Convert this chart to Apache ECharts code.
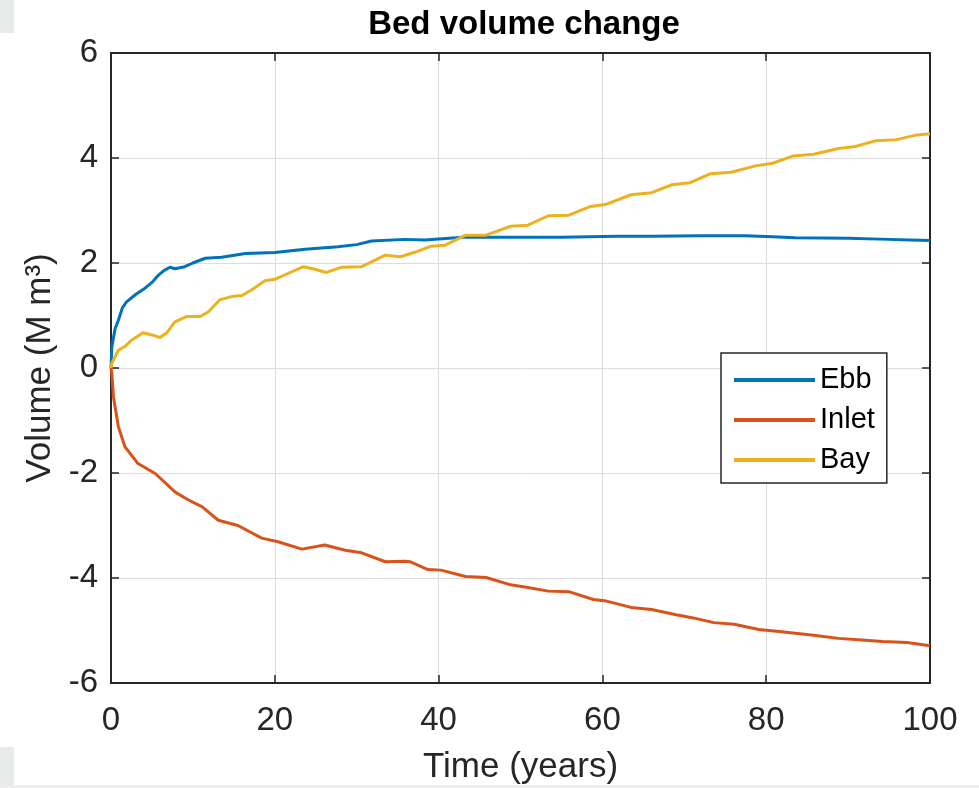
<!DOCTYPE html>
<html>
<head>
<meta charset="utf-8">
<script src="https://cdn.jsdelivr.net/npm/echarts@6/dist/echarts.min.js"></script>
<style>
html,body{margin:0;padding:0;background:#fff;}
#c{width:979px;height:788px;}
</style>
</head>
<body>
<div id="c"></div>
<script>
// ---- data ----
var seriesNames = ['Ebb', 'Inlet', 'Bay'];
var xTicks = [0, 20, 40, 60, 80, 100];
var yTicks = [-6, -4, -2, 0, 2, 4, 6];

var ebbT = [0, 0.1, 0.5, 0.9, 1.4, 1.9, 3, 4.15, 5, 5.8, 6.5, 7.2, 7.8, 9, 10, 11.5, 13.5, 16.4, 20, 23.7, 27.7, 30, 31.8, 35.9, 38.3, 43, 49.6, 55, 61.7, 66, 71.9, 77.4, 80.8, 83.5, 90, 95, 97.6, 100];
var ebbV = [0, 0.4, 0.75, 0.91, 1.15, 1.26, 1.4, 1.52, 1.63, 1.77, 1.86, 1.92, 1.89, 1.93, 2.0, 2.09, 2.11, 2.18, 2.2, 2.26, 2.31, 2.35, 2.42, 2.45, 2.44, 2.49, 2.49, 2.49, 2.51, 2.51, 2.52, 2.52, 2.50, 2.48, 2.47, 2.45, 2.44, 2.43];

var inletT = [0, 0.1, 0.3, 0.9, 1.7, 3.3, 5.4, 7.8, 9.4, 11.1, 13.1, 15.5, 18.4, 20.4, 23.3, 26.1, 28.6, 30.6, 33.5, 35.9, 36.5, 38.7, 40.3, 43.3, 45.8, 48.8, 50.9, 53.4, 55.9, 58.9, 60.5, 63.5, 66.0, 69.0, 71.1, 73.6, 76.1, 79.1, 81.6, 85.8, 88.8, 91.7, 94.2, 97.2, 100];
var inletV = [0, -0.1, -0.55, -1.12, -1.50, -1.82, -2.01, -2.36, -2.51, -2.64, -2.90, -3.00, -3.24, -3.31, -3.45, -3.37, -3.47, -3.52, -3.69, -3.68, -3.69, -3.84, -3.85, -3.97, -3.99, -4.13, -4.18, -4.25, -4.26, -4.41, -4.44, -4.56, -4.60, -4.70, -4.76, -4.85, -4.88, -4.98, -5.02, -5.09, -5.15, -5.18, -5.21, -5.23, -5.29];

var bayT = [0, 0.1, 0.9, 1.7, 2.5, 3.9, 5, 6, 6.8, 7.8, 9.2, 10.9, 11.9, 13.3, 14.7, 16, 17.2, 18.8, 20, 21.6, 23.5, 24.9, 26.3, 28.2, 30.6, 31.8, 33.5, 35.3, 37.4, 39.1, 40.8, 43.3, 45.8, 48.8, 50.9, 53.4, 55.9, 58.4, 60.5, 63.5, 66.0, 68.5, 70.7, 73.2, 75.7, 78.7, 80.8, 83.3, 85.8, 88.8, 90.9, 93.4, 95.9, 98.4, 100];
var bayV = [0, 0.09, 0.34, 0.41, 0.53, 0.67, 0.63, 0.58, 0.67, 0.88, 0.98, 0.98, 1.07, 1.30, 1.36, 1.38, 1.49, 1.66, 1.69, 1.80, 1.93, 1.88, 1.82, 1.92, 1.93, 2.02, 2.15, 2.12, 2.22, 2.32, 2.34, 2.53, 2.53, 2.70, 2.72, 2.90, 2.91, 3.07, 3.12, 3.30, 3.34, 3.49, 3.53, 3.70, 3.73, 3.85, 3.90, 4.04, 4.07, 4.18, 4.22, 4.33, 4.35, 4.44, 4.46];

function zip(t, v) { return t.map(function (x, i) { return [x, v[i]]; }); }

var colors = ['#0072BD', '#D95319', '#EDB120'];
var axisColor = '#262626';
var fontFam = "'Liberation Sans', Arial, Helvetica, sans-serif";
var xStep = xTicks[1] - xTicks[0];
var yStep = yTicks[1] - yTicks[0];

function makeX(pos, showLabel) {
  return {
    type: 'value', position: pos,
    min: xTicks[0], max: xTicks[xTicks.length - 1], interval: xStep,
    axisLine: { show: true, onZero: false, lineStyle: { color: axisColor, width: 2 } },
    axisTick: { show: true, inside: true, length: 8, lineStyle: { color: axisColor, width: 1.5 } },
    axisLabel: { show: showLabel, color: axisColor, fontSize: 33, fontFamily: fontFam, margin: 21 },
    splitLine: { show: showLabel, lineStyle: { color: '#dcdcdc', width: 1 } }
  };
}
function makeY(pos, showLabel) {
  return {
    type: 'value', position: pos,
    min: yTicks[0], max: yTicks[yTicks.length - 1], interval: yStep,
    axisLine: { show: true, onZero: false, lineStyle: { color: axisColor, width: 2 } },
    axisTick: { show: true, inside: true, length: 8, lineStyle: { color: axisColor, width: 1.5 } },
    axisLabel: { show: showLabel, color: axisColor, fontSize: 33, fontFamily: fontFam, margin: 13 },
    splitLine: { show: showLabel, lineStyle: { color: '#dcdcdc', width: 1 } }
  };
}

var xMain = makeX('bottom', true);
xMain.name = 'Time (years)';
xMain.nameLocation = 'middle';
xMain.nameGap = 67;
xMain.nameTextStyle = { color: axisColor, fontSize: 35, fontFamily: fontFam };
var yMain = makeY('left', true);
yMain.name = 'Volume (M m\u00B3)';
yMain.nameLocation = 'middle';
yMain.nameGap = 47;
yMain.nameTextStyle = { color: axisColor, fontSize: 35, fontFamily: fontFam };

var chart = echarts.init(document.getElementById('c'), null, { renderer: 'canvas' });
chart.setOption({
  animation: false,
  backgroundColor: '#ffffff',
  grid: { left: 111, top: 53, right: 49, bottom: 105, containLabel: false, outerBoundsMode: 'none' },
  xAxis: [xMain, makeX('top', false)],
  yAxis: [yMain, makeY('right', false)],
  legend: {
    orient: 'vertical', left: 721, top: 353,
    data: seriesNames,
    icon: 'rect', itemWidth: 81, itemHeight: 4, itemGap: 10,
    padding: [12, 12, 8, 13],
    borderColor: axisColor, borderWidth: 1.5, backgroundColor: '#ffffff',
    textStyle: { color: '#000', fontSize: 29, fontFamily: fontFam, lineHeight: 30 }
  },
  graphic: [
    { type: 'rect', shape: { x: 0, y: 0, width: 14, height: 33 }, style: { fill: '#e9ebeb' }, silent: true },
    { type: 'rect', shape: { x: 0, y: 747, width: 14, height: 41 }, style: { fill: '#e9ebeb' }, silent: true },
    { type: 'rect', shape: { x: 0, y: 785, width: 979, height: 3 }, style: { fill: '#eeeeee' }, silent: true },
    { type: 'text', x: 524, y: 8, style: { text: 'Bed volume change', fill: '#000', font: "bold 33px 'Liberation Sans', Arial, sans-serif", textAlign: 'center', textVerticalAlign: 'top' }, silent: true }
  ],
  series: [
    { name: seriesNames[0], type: 'line', data: zip(ebbT, ebbV), showSymbol: false, symbol: 'none', lineStyle: { color: colors[0], width: 3 }, itemStyle: { color: colors[0] } },
    { name: seriesNames[1], type: 'line', data: zip(inletT, inletV), showSymbol: false, symbol: 'none', lineStyle: { color: colors[1], width: 3 }, itemStyle: { color: colors[1] } },
    { name: seriesNames[2], type: 'line', data: zip(bayT, bayV), showSymbol: false, symbol: 'none', lineStyle: { color: colors[2], width: 3 }, itemStyle: { color: colors[2] } }
  ]
});
</script>
</body>
</html>
